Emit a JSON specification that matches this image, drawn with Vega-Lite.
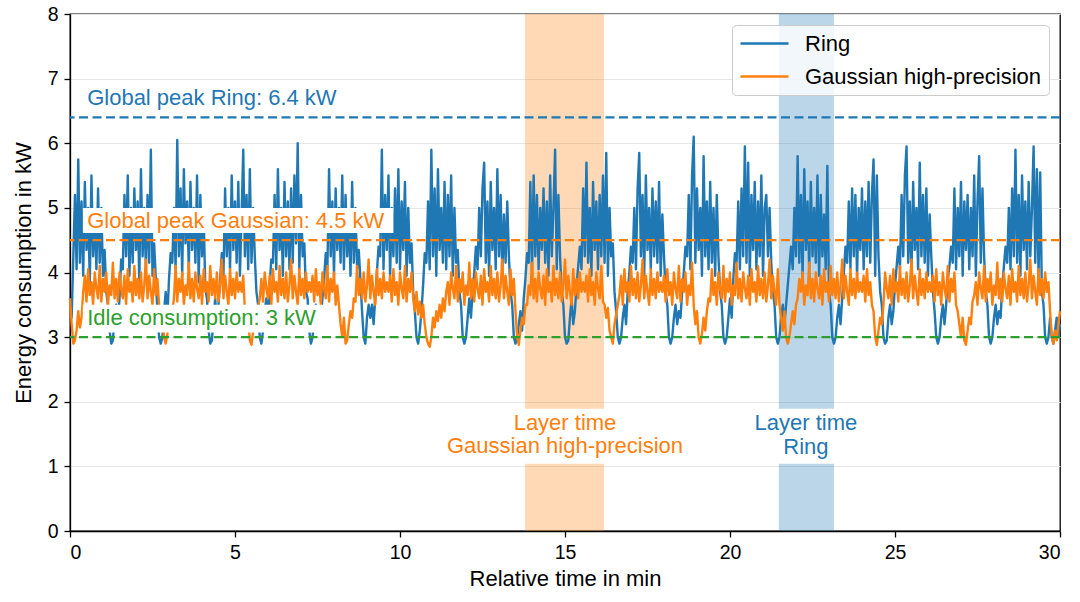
{
  "$schema": "https://vega.github.io/schema/vega-lite/v6.json",
  "width": 990,
  "height": 517,
  "autosize": {"type": "none"},
  "padding": {"left": 70, "top": 14, "right": 20, "bottom": 71},
  "config": {
    "font": "Liberation Sans",
    "view": {"stroke": "#000000", "strokeWidth": 1.3},
    "axis": {
      "labelFontSize": 19.5, "titleFontSize": 22, "labelColor": "#000000", "titleColor": "#000000",
      "titleFontWeight": "normal", "domainColor": "#000000", "domainWidth": 1.3,
      "tickColor": "#000000", "tickWidth": 1.3, "tickSize": 6, "labelPadding": 6,
      "gridColor": "#e6e6e6", "gridWidth": 1.2
    },
    "legend": {
      "orient": "top-right", "offset": 11, "title": null,
      "labelFontSize": 22, "labelColor": "#000000", "labelLimit": 400,
      "symbolType": "M-2.4,0L2.4,0", "symbolSize": 400, "symbolStrokeWidth": 2.5,
      "symbolOffset": 14, "labelOffset": 29, "rowPadding": 10, "padding": 7,
      "fillColor": "rgba(255,255,255,0.8)", "strokeColor": "#cccccc", "cornerRadius": 4
    }
  },
  "datasets": {
    "ring": [
      {"t":0,"v":3.6},{"t":0.05,"v":3.3},
      {"t":0.1,"v":4.25},{"t":0.15,"v":5.2},{"t":0.2,"v":4.05},{"t":0.25,"v":5.75},{"t":0.3,"v":4.15},{"t":0.35,"v":5.1},{"t":0.4,"v":3.95},{"t":0.45,"v":5.4},{"t":0.5,"v":4.35},{"t":0.55,"v":5.0},{"t":0.6,"v":3.85},{"t":0.65,"v":5.5},{"t":0.7,"v":4.25},{"t":0.75,"v":4.9},{"t":0.8,"v":4.05},{"t":0.85,"v":5.3},{"t":0.9,"v":4.15},{"t":0.95,"v":5.0},{"t":1.0,"v":3.95},{"t":1.05,"v":4.35},{"t":1.1,"v":3.7},
      {"t":1.15,"v":3.5},{"t":1.2,"v":3.1},{"t":1.25,"v":2.9},{"t":1.3,"v":2.95},{"t":1.35,"v":3.3},{"t":1.4,"v":3.5},{"t":1.45,"v":3.2},{"t":1.5,"v":3.6},{"t":1.55,"v":4.2},
      {"t":1.6,"v":4.05},{"t":1.65,"v":5.2},{"t":1.7,"v":4.25},{"t":1.75,"v":5.5},{"t":1.8,"v":3.95},{"t":1.85,"v":5.0},{"t":1.9,"v":4.15},{"t":1.95,"v":5.3},{"t":2.0,"v":4.35},{"t":2.05,"v":5.1},{"t":2.1,"v":3.85},{"t":2.15,"v":5.6},{"t":2.2,"v":4.25},{"t":2.25,"v":5.0},{"t":2.3,"v":4.05},{"t":2.35,"v":5.2},{"t":2.4,"v":4.15},{"t":2.45,"v":5.9},{"t":2.5,"v":3.95},{"t":2.55,"v":4.45},{"t":2.6,"v":3.9},
      {"t":2.65,"v":3.4},{"t":2.7,"v":3.0},{"t":2.75,"v":2.9},{"t":2.8,"v":3.0},{"t":2.85,"v":3.4},{"t":2.9,"v":3.7},{"t":2.95,"v":3.3},{"t":3.0,"v":3.9},{"t":3.05,"v":4.3},
      {"t":3.1,"v":4.15},{"t":3.15,"v":5.0},{"t":3.2,"v":4.05},{"t":3.25,"v":6.05},{"t":3.3,"v":4.25},{"t":3.35,"v":5.3},{"t":3.4,"v":3.95},{"t":3.45,"v":5.6},{"t":3.5,"v":4.45},{"t":3.55,"v":5.1},{"t":3.6,"v":4.05},{"t":3.65,"v":5.4},{"t":3.7,"v":4.35},{"t":3.75,"v":5.0},{"t":3.8,"v":4.15},{"t":3.85,"v":5.5},{"t":3.9,"v":3.85},{"t":3.95,"v":5.2},{"t":4.0,"v":4.25},{"t":4.05,"v":4.9},{"t":4.1,"v":3.75},
      {"t":4.15,"v":3.6},{"t":4.2,"v":3.1},{"t":4.25,"v":2.9},{"t":4.3,"v":2.95},{"t":4.35,"v":3.3},{"t":4.4,"v":3.6},{"t":4.45,"v":3.2},{"t":4.5,"v":3.5},{"t":4.55,"v":3.9},{"t":4.6,"v":4.3},
      {"t":4.65,"v":3.95},{"t":4.7,"v":5.3},{"t":4.75,"v":4.25},{"t":4.8,"v":5.0},{"t":4.85,"v":4.05},{"t":4.9,"v":5.5},{"t":4.95,"v":4.35},{"t":5.0,"v":5.1},{"t":5.05,"v":4.15},{"t":5.1,"v":5.4},{"t":5.15,"v":3.95},{"t":5.2,"v":4.9},{"t":5.25,"v":5.9},{"t":5.3,"v":4.25},{"t":5.35,"v":5.2},{"t":5.4,"v":4.05},{"t":5.45,"v":5.6},{"t":5.5,"v":4.15},{"t":5.55,"v":5.0},{"t":5.6,"v":4.25},{"t":5.65,"v":3.7},
      {"t":5.7,"v":3.5},{"t":5.75,"v":3.0},{"t":5.8,"v":2.9},{"t":5.85,"v":3.1},{"t":5.9,"v":3.4},{"t":5.95,"v":3.6},{"t":6.0,"v":3.2},{"t":6.05,"v":3.8},{"t":6.1,"v":4.2},
      {"t":6.15,"v":4.15},{"t":6.2,"v":5.2},{"t":6.25,"v":4.05},{"t":6.3,"v":5.6},{"t":6.35,"v":4.35},{"t":6.4,"v":5.0},{"t":6.45,"v":3.95},{"t":6.5,"v":5.4},{"t":6.55,"v":4.25},{"t":6.6,"v":5.1},{"t":6.65,"v":4.05},{"t":6.7,"v":5.3},{"t":6.75,"v":4.15},{"t":6.8,"v":5.5},{"t":6.85,"v":4.45},{"t":6.9,"v":6.0},{"t":6.95,"v":4.05},{"t":7.0,"v":5.2},{"t":7.05,"v":4.25},{"t":7.1,"v":4.45},{"t":7.15,"v":3.7},
      {"t":7.2,"v":3.6},{"t":7.25,"v":3.1},{"t":7.3,"v":2.9},{"t":7.35,"v":3.0},{"t":7.4,"v":3.3},{"t":7.45,"v":3.5},{"t":7.5,"v":3.2},{"t":7.55,"v":3.4},{"t":7.6,"v":3.3},{"t":7.65,"v":3.6},{"t":7.7,"v":3.9},{"t":7.75,"v":4.3},
      {"t":7.8,"v":4.05},{"t":7.85,"v":5.6},{"t":7.9,"v":4.25},{"t":7.95,"v":5.1},{"t":8.0,"v":3.95},{"t":8.05,"v":5.3},{"t":8.1,"v":4.35},{"t":8.15,"v":5.0},{"t":8.2,"v":4.15},{"t":8.25,"v":5.5},{"t":8.3,"v":4.05},{"t":8.35,"v":5.2},{"t":8.4,"v":4.25},{"t":8.45,"v":4.9},{"t":8.5,"v":3.95},{"t":8.55,"v":5.4},{"t":8.6,"v":4.15},{"t":8.65,"v":5.0},{"t":8.7,"v":4.05},{"t":8.75,"v":4.35},{"t":8.8,"v":3.9},
      {"t":8.85,"v":3.4},{"t":8.9,"v":3.0},{"t":8.95,"v":2.9},{"t":9.0,"v":3.3},{"t":9.05,"v":3.5},{"t":9.1,"v":3.3},{"t":9.15,"v":3.5},{"t":9.2,"v":3.2},{"t":9.25,"v":3.6},{"t":9.3,"v":4.0},{"t":9.35,"v":4.4},
      {"t":9.4,"v":4.25},{"t":9.45,"v":5.9},{"t":9.5,"v":4.05},{"t":9.55,"v":5.2},{"t":9.6,"v":4.35},{"t":9.65,"v":5.5},{"t":9.7,"v":3.95},{"t":9.75,"v":5.0},{"t":9.8,"v":4.25},{"t":9.85,"v":5.3},{"t":9.9,"v":4.15},{"t":9.95,"v":5.6},{"t":10.0,"v":4.05},{"t":10.05,"v":5.1},{"t":10.1,"v":4.35},{"t":10.15,"v":5.4},{"t":10.2,"v":3.95},{"t":10.25,"v":5.0},{"t":10.3,"v":4.15},{"t":10.35,"v":4.45},{"t":10.4,"v":3.7},
      {"t":10.45,"v":3.4},{"t":10.5,"v":3.0},{"t":10.55,"v":2.9},{"t":10.6,"v":3.1},{"t":10.65,"v":3.4},{"t":10.7,"v":3.8},{"t":10.75,"v":4.3},
      {"t":10.8,"v":4.15},{"t":10.85,"v":5.1},{"t":10.9,"v":4.05},{"t":10.95,"v":5.9},{"t":11.0,"v":4.25},{"t":11.05,"v":5.3},{"t":11.1,"v":3.95},{"t":11.15,"v":5.6},{"t":11.2,"v":4.35},{"t":11.25,"v":5.0},{"t":11.3,"v":4.15},{"t":11.35,"v":5.4},{"t":11.4,"v":4.05},{"t":11.45,"v":5.2},{"t":11.5,"v":4.25},{"t":11.55,"v":5.5},{"t":11.6,"v":3.95},{"t":11.65,"v":5.0},{"t":11.7,"v":4.15},{"t":11.75,"v":4.35},{"t":11.8,"v":3.7},
      {"t":11.85,"v":3.5},{"t":11.9,"v":3.0},{"t":11.95,"v":2.9},{"t":12.0,"v":3.0},{"t":12.05,"v":3.3},{"t":12.1,"v":3.6},{"t":12.15,"v":3.3},{"t":12.2,"v":3.7},{"t":12.25,"v":4.0},{"t":12.3,"v":4.4},
      {"t":12.35,"v":4.05},{"t":12.4,"v":5.0},{"t":12.45,"v":4.25},{"t":12.5,"v":5.3},{"t":12.55,"v":5.7},{"t":12.6,"v":4.15},{"t":12.65,"v":5.1},{"t":12.7,"v":3.95},{"t":12.75,"v":5.4},{"t":12.8,"v":4.35},{"t":12.85,"v":5.0},{"t":12.9,"v":4.05},{"t":12.95,"v":5.6},{"t":13.0,"v":4.25},{"t":13.05,"v":5.2},{"t":13.1,"v":3.95},{"t":13.15,"v":4.9},{"t":13.2,"v":4.15},{"t":13.25,"v":5.1},{"t":13.3,"v":4.25},{"t":13.35,"v":3.7},
      {"t":13.4,"v":3.5},{"t":13.45,"v":3.0},{"t":13.5,"v":2.9},{"t":13.55,"v":3.0},{"t":13.6,"v":3.2},{"t":13.65,"v":3.4},{"t":13.7,"v":3.1},{"t":13.75,"v":3.6},{"t":13.8,"v":3.9},{"t":13.85,"v":4.3},
      {"t":13.9,"v":4.15},{"t":13.95,"v":5.4},{"t":14.0,"v":3.95},{"t":14.05,"v":5.5},{"t":14.1,"v":4.25},{"t":14.15,"v":5.2},{"t":14.2,"v":4.05},{"t":14.25,"v":5.0},{"t":14.3,"v":4.35},{"t":14.35,"v":5.3},{"t":14.4,"v":4.15},{"t":14.45,"v":5.1},{"t":14.5,"v":3.95},{"t":14.55,"v":5.5},{"t":14.6,"v":4.25},{"t":14.65,"v":5.0},{"t":14.7,"v":5.9},{"t":14.75,"v":4.05},{"t":14.8,"v":5.2},{"t":14.85,"v":4.25},{"t":14.9,"v":3.7},
      {"t":14.95,"v":3.5},{"t":15.0,"v":3.0},{"t":15.05,"v":2.9},{"t":15.1,"v":2.95},{"t":15.15,"v":3.3},{"t":15.2,"v":3.6},{"t":15.25,"v":3.2},{"t":15.3,"v":3.4},{"t":15.35,"v":3.8},{"t":15.4,"v":4.1},{"t":15.45,"v":4.4},
      {"t":15.5,"v":4.05},{"t":15.55,"v":5.3},{"t":15.6,"v":4.25},{"t":15.65,"v":5.7},{"t":15.7,"v":4.15},{"t":15.75,"v":5.0},{"t":15.8,"v":3.95},{"t":15.85,"v":5.4},{"t":15.9,"v":4.35},{"t":15.95,"v":5.1},{"t":16.0,"v":4.05},{"t":16.05,"v":5.2},{"t":16.1,"v":4.25},{"t":16.15,"v":5.5},{"t":16.2,"v":4.15},{"t":16.25,"v":5.85},{"t":16.3,"v":3.95},{"t":16.35,"v":5.0},{"t":16.4,"v":4.25},{"t":16.45,"v":4.45},{"t":16.5,"v":3.7},
      {"t":16.55,"v":3.4},{"t":16.6,"v":3.0},{"t":16.65,"v":2.9},{"t":16.7,"v":3.0},{"t":16.75,"v":3.3},{"t":16.8,"v":3.5},{"t":16.85,"v":3.2},{"t":16.9,"v":3.7},{"t":16.95,"v":4.0},{"t":17.0,"v":4.4},
      {"t":17.05,"v":4.15},{"t":17.1,"v":5.0},{"t":17.15,"v":4.05},{"t":17.2,"v":5.3},{"t":17.25,"v":5.85},{"t":17.3,"v":4.25},{"t":17.35,"v":5.2},{"t":17.4,"v":3.95},{"t":17.45,"v":5.5},{"t":17.5,"v":4.35},{"t":17.55,"v":5.0},{"t":17.6,"v":4.05},{"t":17.65,"v":5.3},{"t":17.7,"v":4.25},{"t":17.75,"v":5.1},{"t":17.8,"v":4.15},{"t":17.85,"v":5.4},{"t":17.9,"v":3.95},{"t":17.95,"v":4.9},{"t":18.0,"v":4.25},{"t":18.05,"v":3.7},
      {"t":18.1,"v":3.5},{"t":18.15,"v":3.0},{"t":18.2,"v":2.9},{"t":18.25,"v":3.0},{"t":18.3,"v":3.3},{"t":18.35,"v":3.5},{"t":18.4,"v":3.2},{"t":18.45,"v":3.4},{"t":18.5,"v":3.3},{"t":18.55,"v":3.7},{"t":18.6,"v":4.0},{"t":18.65,"v":4.4},
      {"t":18.7,"v":4.25},{"t":18.75,"v":5.2},{"t":18.8,"v":4.05},{"t":18.85,"v":5.5},{"t":18.9,"v":6.1},{"t":18.95,"v":4.15},{"t":19.0,"v":5.3},{"t":19.05,"v":4.35},{"t":19.1,"v":5.0},{"t":19.15,"v":3.95},{"t":19.2,"v":5.8},{"t":19.25,"v":4.25},{"t":19.3,"v":5.1},{"t":19.35,"v":4.05},{"t":19.4,"v":5.4},{"t":19.45,"v":4.15},{"t":19.5,"v":5.0},{"t":19.55,"v":3.95},{"t":19.6,"v":5.2},{"t":19.65,"v":4.25},{"t":19.7,"v":3.7},
      {"t":19.75,"v":3.5},{"t":19.8,"v":3.0},{"t":19.85,"v":2.9},{"t":19.9,"v":3.0},{"t":19.95,"v":3.3},{"t":20.0,"v":3.6},{"t":20.05,"v":3.3},{"t":20.1,"v":3.9},{"t":20.15,"v":4.3},
      {"t":20.2,"v":4.15},{"t":20.25,"v":5.1},{"t":20.3,"v":4.05},{"t":20.35,"v":5.3},{"t":20.4,"v":4.25},{"t":20.45,"v":5.95},{"t":20.5,"v":4.15},{"t":20.55,"v":5.7},{"t":20.6,"v":3.95},{"t":20.65,"v":5.2},{"t":20.7,"v":4.35},{"t":20.75,"v":5.4},{"t":20.8,"v":4.05},{"t":20.85,"v":5.1},{"t":20.9,"v":4.25},{"t":20.95,"v":5.5},{"t":21.0,"v":3.95},{"t":21.05,"v":5.0},{"t":21.1,"v":5.2},{"t":21.15,"v":4.25},{"t":21.2,"v":5.0},{"t":21.25,"v":4.15},{"t":21.3,"v":3.7},
      {"t":21.35,"v":3.5},{"t":21.4,"v":3.0},{"t":21.45,"v":2.9},{"t":21.5,"v":3.0},{"t":21.55,"v":3.3},{"t":21.6,"v":3.5},{"t":21.65,"v":3.2},{"t":21.7,"v":3.5},{"t":21.75,"v":3.8},{"t":21.8,"v":4.1},{"t":21.85,"v":4.4},
      {"t":21.9,"v":4.05},{"t":21.95,"v":5.0},{"t":22.0,"v":4.25},{"t":22.05,"v":5.8},{"t":22.1,"v":4.15},{"t":22.15,"v":5.2},{"t":22.2,"v":3.95},{"t":22.25,"v":5.6},{"t":22.3,"v":4.35},{"t":22.35,"v":5.1},{"t":22.4,"v":4.05},{"t":22.45,"v":5.4},{"t":22.5,"v":4.25},{"t":22.55,"v":5.0},{"t":22.6,"v":4.15},{"t":22.65,"v":5.5},{"t":22.7,"v":3.95},{"t":22.75,"v":5.2},{"t":22.8,"v":4.25},{"t":22.85,"v":4.9},{"t":22.9,"v":4.05},{"t":22.95,"v":5.65},{"t":23.0,"v":3.7},
      {"t":23.05,"v":3.5},{"t":23.1,"v":3.0},{"t":23.15,"v":2.9},{"t":23.2,"v":3.0},{"t":23.25,"v":3.3},{"t":23.3,"v":3.5},{"t":23.35,"v":3.2},{"t":23.4,"v":3.6},{"t":23.45,"v":4.0},{"t":23.5,"v":4.4},
      {"t":23.55,"v":4.15},{"t":23.6,"v":5.1},{"t":23.65,"v":4.05},{"t":23.7,"v":5.3},{"t":23.75,"v":4.25},{"t":23.8,"v":5.2},{"t":23.85,"v":3.95},{"t":23.9,"v":5.0},{"t":23.95,"v":4.35},{"t":24.0,"v":5.3},{"t":24.05,"v":4.05},{"t":24.1,"v":5.1},{"t":24.15,"v":4.25},{"t":24.2,"v":5.4},{"t":24.25,"v":4.15},{"t":24.3,"v":5.2},{"t":24.35,"v":5.75},{"t":24.4,"v":3.95},{"t":24.45,"v":5.5},{"t":24.5,"v":4.25},{"t":24.55,"v":3.7},
      {"t":24.6,"v":3.5},{"t":24.65,"v":3.0},{"t":24.7,"v":2.9},{"t":24.75,"v":2.95},{"t":24.8,"v":3.3},{"t":24.85,"v":3.5},{"t":24.9,"v":3.2},{"t":24.95,"v":3.4},{"t":25.0,"v":3.8},{"t":25.05,"v":4.1},{"t":25.1,"v":4.4},
      {"t":25.15,"v":4.05},{"t":25.2,"v":5.2},{"t":25.25,"v":4.25},{"t":25.3,"v":5.5},{"t":25.35,"v":5.95},{"t":25.4,"v":4.15},{"t":25.45,"v":5.1},{"t":25.5,"v":3.95},{"t":25.55,"v":5.4},{"t":25.6,"v":4.35},{"t":25.65,"v":5.0},{"t":25.7,"v":4.05},{"t":25.75,"v":5.7},{"t":25.8,"v":4.25},{"t":25.85,"v":5.2},{"t":25.9,"v":4.15},{"t":25.95,"v":5.3},{"t":26.0,"v":3.95},{"t":26.05,"v":4.9},{"t":26.1,"v":4.25},{"t":26.15,"v":3.7},
      {"t":26.2,"v":3.4},{"t":26.25,"v":3.0},{"t":26.3,"v":2.9},{"t":26.35,"v":3.0},{"t":26.4,"v":3.3},{"t":26.45,"v":3.5},{"t":26.5,"v":3.2},{"t":26.55,"v":3.5},{"t":26.6,"v":3.9},{"t":26.65,"v":4.1},{"t":26.7,"v":4.4},
      {"t":26.75,"v":4.15},{"t":26.8,"v":5.3},{"t":26.85,"v":4.05},{"t":26.9,"v":5.0},{"t":26.95,"v":4.25},{"t":27.0,"v":5.4},{"t":27.05,"v":3.95},{"t":27.1,"v":5.1},{"t":27.15,"v":4.35},{"t":27.2,"v":5.2},{"t":27.25,"v":4.05},{"t":27.3,"v":5.0},{"t":27.35,"v":4.25},{"t":27.4,"v":5.5},{"t":27.45,"v":3.95},{"t":27.5,"v":5.1},{"t":27.55,"v":5.8},{"t":27.6,"v":4.15},{"t":27.65,"v":5.3},{"t":27.7,"v":4.25},{"t":27.75,"v":3.7},
      {"t":27.8,"v":3.5},{"t":27.85,"v":3.0},{"t":27.9,"v":2.9},{"t":27.95,"v":3.0},{"t":28.0,"v":3.3},{"t":28.05,"v":3.5},{"t":28.1,"v":3.2},{"t":28.15,"v":3.4},{"t":28.2,"v":3.3},{"t":28.25,"v":3.8},{"t":28.3,"v":4.1},{"t":28.35,"v":4.4},
      {"t":28.4,"v":4.15},{"t":28.45,"v":5.0},{"t":28.5,"v":4.05},{"t":28.55,"v":5.3},{"t":28.6,"v":4.25},{"t":28.65,"v":5.9},{"t":28.7,"v":4.15},{"t":28.75,"v":5.2},{"t":28.8,"v":3.95},{"t":28.85,"v":5.5},{"t":28.9,"v":4.35},{"t":28.95,"v":5.1},{"t":29.0,"v":4.05},{"t":29.05,"v":5.4},{"t":29.1,"v":4.25},{"t":29.15,"v":5.0},{"t":29.2,"v":5.95},{"t":29.25,"v":4.15},{"t":29.3,"v":5.6},{"t":29.35,"v":3.95},{"t":29.4,"v":5.55},{"t":29.45,"v":3.7},
      {"t":29.5,"v":3.5},{"t":29.55,"v":3.0},{"t":29.6,"v":2.9},{"t":29.65,"v":3.0},{"t":29.7,"v":3.3},{"t":29.75,"v":3.0},{"t":29.8,"v":2.9},{"t":29.85,"v":3.1},{"t":29.9,"v":3.3},{"t":29.95,"v":3.0},{"t":30.0,"v":3.2}
    ],
    "gauss": [
      {"t":0,"v":3.6},{"t":0.05,"v":3.2},{"t":0.1,"v":2.9},{"t":0.15,"v":2.95},{"t":0.2,"v":3.1},{"t":0.25,"v":3.4},{"t":0.3,"v":3.15},{"t":0.35,"v":3.3},
      {"t":0.4,"v":3.7},{"t":0.45,"v":3.95},{"t":0.5,"v":3.55},{"t":0.55,"v":4.05},{"t":0.6,"v":3.65},{"t":0.65,"v":3.85},{"t":0.7,"v":3.5},{"t":0.75,"v":4.0},{"t":0.8,"v":3.75},{"t":0.85,"v":3.6},{"t":0.9,"v":4.1},{"t":0.95,"v":3.55},{"t":1.0,"v":3.9},{"t":1.05,"v":3.7},{"t":1.1,"v":4.0},{"t":1.15,"v":3.5},{"t":1.2,"v":3.8},{"t":1.25,"v":3.65},{"t":1.3,"v":4.15},{"t":1.35,"v":3.6},{"t":1.4,"v":3.9},{"t":1.45,"v":3.55},{"t":1.5,"v":4.0},{"t":1.55,"v":3.75},{"t":1.6,"v":3.6},{"t":1.65,"v":3.95},{"t":1.7,"v":3.5},{"t":1.75,"v":4.05},{"t":1.8,"v":3.7},{"t":1.85,"v":3.85},{"t":1.9,"v":3.55},{"t":1.95,"v":4.1},{"t":2.0,"v":3.65},{"t":2.05,"v":3.9},{"t":2.1,"v":3.6},{"t":2.15,"v":4.0},{"t":2.2,"v":3.55},{"t":2.25,"v":3.8},{"t":2.3,"v":4.2},{"t":2.35,"v":3.6},{"t":2.4,"v":3.95},{"t":2.45,"v":3.7},{"t":2.5,"v":3.5},{"t":2.55,"v":4.05},{"t":2.6,"v":3.65},{"t":2.65,"v":3.9},
      {"t":2.7,"v":3.5},{"t":2.75,"v":3.2},{"t":2.8,"v":3.4},{"t":2.85,"v":3.0},{"t":2.9,"v":2.9},{"t":2.95,"v":3.05},{"t":3.0,"v":3.3},{"t":3.05,"v":3.1},{"t":3.1,"v":3.4},{"t":3.15,"v":3.6},
      {"t":3.2,"v":4.1},{"t":3.25,"v":3.55},{"t":3.3,"v":3.9},{"t":3.35,"v":3.7},{"t":3.4,"v":4.0},{"t":3.45,"v":3.5},{"t":3.5,"v":3.8},{"t":3.55,"v":3.65},{"t":3.6,"v":4.15},{"t":3.65,"v":3.6},{"t":3.7,"v":3.9},{"t":3.75,"v":3.55},{"t":3.8,"v":4.0},{"t":3.85,"v":3.75},{"t":3.9,"v":3.6},{"t":3.95,"v":3.95},{"t":4.0,"v":3.5},{"t":4.05,"v":4.05},{"t":4.1,"v":3.7},{"t":4.15,"v":3.85},{"t":4.2,"v":3.55},{"t":4.25,"v":4.1},{"t":4.3,"v":3.65},{"t":4.35,"v":3.9},{"t":4.4,"v":3.6},{"t":4.45,"v":4.0},{"t":4.5,"v":3.55},{"t":4.55,"v":3.8},{"t":4.6,"v":4.2},{"t":4.65,"v":3.6},{"t":4.7,"v":3.95},{"t":4.75,"v":3.7},{"t":4.8,"v":3.5},{"t":4.85,"v":4.05},{"t":4.9,"v":3.65},{"t":4.95,"v":3.9},{"t":5.0,"v":3.6},{"t":5.05,"v":4.0},{"t":5.1,"v":3.7},{"t":5.15,"v":3.85},{"t":5.2,"v":3.7},{"t":5.25,"v":3.95},
      {"t":5.3,"v":3.4},{"t":5.35,"v":3.1},{"t":5.4,"v":3.3},{"t":5.45,"v":2.95},{"t":5.5,"v":2.88},{"t":5.55,"v":3.1},{"t":5.6,"v":3.35},{"t":5.65,"v":3.2},{"t":5.7,"v":3.45},{"t":5.75,"v":3.6},
      {"t":5.8,"v":3.9},{"t":5.85,"v":3.55},{"t":5.9,"v":4.0},{"t":5.95,"v":3.75},{"t":6.0,"v":3.6},{"t":6.05,"v":3.95},{"t":6.1,"v":3.5},{"t":6.15,"v":4.05},{"t":6.2,"v":3.7},{"t":6.25,"v":3.85},{"t":6.3,"v":3.55},{"t":6.35,"v":4.1},{"t":6.4,"v":3.65},{"t":6.45,"v":3.9},{"t":6.5,"v":3.6},{"t":6.55,"v":4.0},{"t":6.6,"v":3.55},{"t":6.65,"v":3.8},{"t":6.7,"v":4.2},{"t":6.75,"v":3.6},{"t":6.8,"v":3.95},{"t":6.85,"v":3.7},{"t":6.9,"v":3.5},{"t":6.95,"v":4.05},{"t":7.0,"v":3.65},{"t":7.05,"v":3.9},{"t":7.1,"v":3.6},{"t":7.15,"v":4.0},{"t":7.2,"v":3.7},{"t":7.25,"v":3.85},{"t":7.3,"v":3.7},{"t":7.35,"v":3.95},{"t":7.4,"v":3.55},{"t":7.45,"v":4.05},{"t":7.5,"v":3.65},{"t":7.55,"v":3.85},{"t":7.6,"v":3.5},{"t":7.65,"v":4.0},{"t":7.7,"v":3.75},{"t":7.75,"v":3.6},{"t":7.8,"v":4.1},{"t":7.85,"v":3.55},{"t":7.9,"v":3.9},{"t":7.95,"v":3.7},{"t":8.0,"v":4.0},{"t":8.05,"v":3.5},{"t":8.1,"v":3.8},
      {"t":8.15,"v":3.5},{"t":8.2,"v":3.2},{"t":8.25,"v":3.0},{"t":8.3,"v":3.3},{"t":8.35,"v":2.9},{"t":8.4,"v":2.95},{"t":8.45,"v":3.2},{"t":8.5,"v":3.4},{"t":8.55,"v":3.3},{"t":8.6,"v":3.6},
      {"t":8.65,"v":3.55},{"t":8.7,"v":4.1},{"t":8.75,"v":3.65},{"t":8.8,"v":3.9},{"t":8.85,"v":3.6},{"t":8.9,"v":4.0},{"t":8.95,"v":3.55},{"t":9.0,"v":3.8},{"t":9.05,"v":4.2},{"t":9.1,"v":3.6},{"t":9.15,"v":3.95},{"t":9.2,"v":3.7},{"t":9.25,"v":3.5},{"t":9.3,"v":4.05},{"t":9.35,"v":3.65},{"t":9.4,"v":3.9},{"t":9.45,"v":3.6},{"t":9.5,"v":4.0},{"t":9.55,"v":3.7},{"t":9.6,"v":3.85},{"t":9.65,"v":3.7},{"t":9.7,"v":3.95},{"t":9.75,"v":3.55},{"t":9.8,"v":4.05},{"t":9.85,"v":3.65},{"t":9.9,"v":3.85},{"t":9.95,"v":3.5},{"t":10.0,"v":4.0},{"t":10.05,"v":3.75},{"t":10.1,"v":3.6},{"t":10.15,"v":4.1},{"t":10.2,"v":3.55},{"t":10.25,"v":3.9},{"t":10.3,"v":3.7},{"t":10.35,"v":4.0},
      {"t":10.4,"v":3.6},{"t":10.45,"v":3.4},{"t":10.5,"v":3.7},{"t":10.55,"v":3.35},{"t":10.6,"v":3.55},{"t":10.65,"v":3.3},{"t":10.7,"v":3.5},{"t":10.75,"v":3.2},{"t":10.8,"v":3.0},{"t":10.85,"v":2.9},{"t":10.9,"v":2.85},{"t":10.95,"v":3.0},{"t":11.0,"v":3.3},{"t":11.05,"v":3.15},{"t":11.1,"v":3.4},{"t":11.15,"v":3.25},{"t":11.2,"v":3.5},{"t":11.25,"v":3.3},{"t":11.3,"v":3.6},{"t":11.35,"v":3.4},{"t":11.4,"v":3.7},
      {"t":11.45,"v":3.85},{"t":11.5,"v":3.5},{"t":11.55,"v":4.0},{"t":11.6,"v":3.75},{"t":11.65,"v":3.6},{"t":11.7,"v":4.1},{"t":11.75,"v":3.55},{"t":11.8,"v":3.9},{"t":11.85,"v":3.7},{"t":11.9,"v":4.0},{"t":11.95,"v":3.5},{"t":12.0,"v":3.8},{"t":12.05,"v":3.65},{"t":12.1,"v":4.15},{"t":12.15,"v":3.6},{"t":12.2,"v":3.9},{"t":12.25,"v":3.55},{"t":12.3,"v":4.0},{"t":12.35,"v":3.75},{"t":12.4,"v":3.6},{"t":12.45,"v":3.95},{"t":12.5,"v":3.5},{"t":12.55,"v":4.05},{"t":12.6,"v":3.7},{"t":12.65,"v":3.85},{"t":12.7,"v":3.55},{"t":12.75,"v":4.1},{"t":12.8,"v":3.65},{"t":12.85,"v":3.9},{"t":12.9,"v":3.6},{"t":12.95,"v":4.0},{"t":13.0,"v":3.55},{"t":13.05,"v":3.8},{"t":13.1,"v":4.2},{"t":13.15,"v":3.6},{"t":13.2,"v":3.95},{"t":13.25,"v":3.7},{"t":13.3,"v":3.5},{"t":13.35,"v":4.05},{"t":13.4,"v":3.65},{"t":13.45,"v":3.9},
      {"t":13.5,"v":3.4},{"t":13.55,"v":3.0},{"t":13.6,"v":2.88},{"t":13.65,"v":3.1},{"t":13.7,"v":3.3},{"t":13.75,"v":3.2},{"t":13.8,"v":3.5},
      {"t":13.85,"v":3.5},{"t":13.9,"v":3.8},{"t":13.95,"v":3.65},{"t":14.0,"v":4.15},{"t":14.05,"v":3.6},{"t":14.1,"v":3.9},{"t":14.15,"v":3.55},{"t":14.2,"v":4.0},{"t":14.25,"v":3.75},{"t":14.3,"v":3.6},{"t":14.35,"v":3.95},{"t":14.4,"v":3.5},{"t":14.45,"v":4.05},{"t":14.5,"v":3.7},{"t":14.55,"v":3.85},{"t":14.6,"v":3.55},{"t":14.65,"v":4.1},{"t":14.7,"v":3.65},{"t":14.75,"v":3.9},{"t":14.8,"v":3.6},{"t":14.85,"v":4.0},{"t":14.9,"v":3.55},{"t":14.95,"v":3.8},{"t":15.0,"v":4.2},{"t":15.05,"v":3.6},{"t":15.1,"v":3.95},{"t":15.15,"v":3.7},{"t":15.2,"v":3.5},{"t":15.25,"v":4.05},{"t":15.3,"v":3.65},{"t":15.35,"v":3.9},{"t":15.4,"v":3.6},{"t":15.45,"v":4.0},{"t":15.5,"v":3.7},{"t":15.55,"v":3.85},{"t":15.6,"v":3.7},{"t":15.65,"v":3.95},{"t":15.7,"v":3.55},{"t":15.75,"v":4.05},{"t":15.8,"v":3.65},{"t":15.85,"v":3.85},{"t":15.9,"v":3.5},{"t":15.95,"v":4.0},{"t":16.0,"v":3.75},{"t":16.05,"v":3.6},{"t":16.1,"v":4.1},{"t":16.15,"v":3.55},
      {"t":16.2,"v":3.5},{"t":16.25,"v":3.3},{"t":16.3,"v":3.45},{"t":16.35,"v":3.1},{"t":16.4,"v":3.0},{"t":16.45,"v":2.9},{"t":16.5,"v":3.2},{"t":16.55,"v":3.35},{"t":16.6,"v":3.5},{"t":16.65,"v":3.65},
      {"t":16.7,"v":3.95},{"t":16.75,"v":3.5},{"t":16.8,"v":4.05},{"t":16.85,"v":3.7},{"t":16.9,"v":3.85},{"t":16.95,"v":3.55},{"t":17.0,"v":4.1},{"t":17.05,"v":3.65},{"t":17.1,"v":3.9},{"t":17.15,"v":3.6},{"t":17.2,"v":4.0},{"t":17.25,"v":3.55},{"t":17.3,"v":3.8},{"t":17.35,"v":4.2},{"t":17.4,"v":3.6},{"t":17.45,"v":3.95},{"t":17.5,"v":3.7},{"t":17.55,"v":3.5},{"t":17.6,"v":4.05},{"t":17.65,"v":3.65},{"t":17.7,"v":3.9},{"t":17.75,"v":3.6},{"t":17.8,"v":4.0},{"t":17.85,"v":3.7},{"t":17.9,"v":3.85},{"t":17.95,"v":3.7},{"t":18.0,"v":3.95},{"t":18.05,"v":3.55},{"t":18.1,"v":4.05},{"t":18.15,"v":3.65},{"t":18.2,"v":3.85},{"t":18.25,"v":3.5},{"t":18.3,"v":4.0},{"t":18.35,"v":3.75},{"t":18.4,"v":3.6},{"t":18.45,"v":4.1},{"t":18.5,"v":3.55},{"t":18.55,"v":3.9},{"t":18.6,"v":3.7},{"t":18.65,"v":4.0},{"t":18.7,"v":3.5},{"t":18.75,"v":3.8},{"t":18.8,"v":3.65},{"t":18.85,"v":4.15},
      {"t":18.9,"v":3.5},{"t":18.95,"v":3.2},{"t":19.0,"v":3.4},{"t":19.05,"v":3.0},{"t":19.1,"v":2.9},{"t":19.15,"v":3.05},{"t":19.2,"v":3.3},{"t":19.25,"v":3.1},{"t":19.3,"v":3.4},{"t":19.35,"v":3.6},
      {"t":19.4,"v":3.55},{"t":19.45,"v":4.05},{"t":19.5,"v":3.65},{"t":19.55,"v":3.85},{"t":19.6,"v":3.5},{"t":19.65,"v":4.0},{"t":19.7,"v":3.75},{"t":19.75,"v":3.6},{"t":19.8,"v":4.1},{"t":19.85,"v":3.55},{"t":19.9,"v":3.9},{"t":19.95,"v":3.7},{"t":20.0,"v":4.0},{"t":20.05,"v":3.5},{"t":20.1,"v":3.8},{"t":20.15,"v":3.65},{"t":20.2,"v":4.15},{"t":20.25,"v":3.6},{"t":20.3,"v":3.9},{"t":20.35,"v":3.55},{"t":20.4,"v":4.0},{"t":20.45,"v":3.75},{"t":20.5,"v":3.6},{"t":20.55,"v":3.95},{"t":20.6,"v":3.5},{"t":20.65,"v":4.05},{"t":20.7,"v":3.7},{"t":20.75,"v":3.85},{"t":20.8,"v":3.55},{"t":20.85,"v":4.1},{"t":20.9,"v":3.65},{"t":20.95,"v":3.9},{"t":21.0,"v":3.6},{"t":21.05,"v":4.0},{"t":21.1,"v":3.55},{"t":21.15,"v":3.8},{"t":21.2,"v":4.2},{"t":21.25,"v":3.6},{"t":21.3,"v":3.95},{"t":21.35,"v":3.7},{"t":21.4,"v":3.5},{"t":21.45,"v":4.05},
      {"t":21.5,"v":3.5},{"t":21.55,"v":3.3},{"t":21.6,"v":3.1},{"t":21.65,"v":3.4},{"t":21.7,"v":3.0},{"t":21.75,"v":2.9},{"t":21.8,"v":3.0},{"t":21.85,"v":3.2},{"t":21.9,"v":3.4},{"t":21.95,"v":3.2},{"t":22.0,"v":3.5},{"t":22.05,"v":3.6},
      {"t":22.1,"v":3.9},{"t":22.15,"v":3.7},{"t":22.2,"v":4.0},{"t":22.25,"v":3.5},{"t":22.3,"v":3.8},{"t":22.35,"v":3.65},{"t":22.4,"v":4.15},{"t":22.45,"v":3.6},{"t":22.5,"v":3.9},{"t":22.55,"v":3.55},{"t":22.6,"v":4.0},{"t":22.65,"v":3.75},{"t":22.7,"v":3.6},{"t":22.75,"v":3.95},{"t":22.8,"v":3.5},{"t":22.85,"v":4.05},{"t":22.9,"v":3.7},{"t":22.95,"v":3.85},{"t":23.0,"v":3.55},{"t":23.05,"v":4.1},{"t":23.1,"v":3.65},{"t":23.15,"v":3.9},{"t":23.2,"v":3.6},{"t":23.25,"v":4.0},{"t":23.3,"v":3.55},{"t":23.35,"v":3.8},{"t":23.4,"v":4.2},{"t":23.45,"v":3.6},{"t":23.5,"v":3.95},{"t":23.55,"v":3.7},{"t":23.6,"v":3.5},{"t":23.65,"v":4.05},{"t":23.7,"v":3.65},{"t":23.75,"v":3.9},{"t":23.8,"v":3.6},{"t":23.85,"v":4.0},{"t":23.9,"v":3.7},{"t":23.95,"v":3.85},{"t":24.0,"v":3.7},{"t":24.05,"v":3.95},{"t":24.1,"v":3.55},{"t":24.15,"v":4.05},{"t":24.2,"v":3.65},{"t":24.25,"v":3.85},{"t":24.3,"v":3.5},
      {"t":24.35,"v":3.4},{"t":24.4,"v":3.0},{"t":24.45,"v":2.88},{"t":24.5,"v":3.1},{"t":24.55,"v":3.3},{"t":24.6,"v":3.2},{"t":24.65,"v":3.5},
      {"t":24.7,"v":4.0},{"t":24.75,"v":3.75},{"t":24.8,"v":3.6},{"t":24.85,"v":3.95},{"t":24.9,"v":3.5},{"t":24.95,"v":4.05},{"t":25.0,"v":3.7},{"t":25.05,"v":3.85},{"t":25.1,"v":3.55},{"t":25.15,"v":4.1},{"t":25.2,"v":3.65},{"t":25.25,"v":3.9},{"t":25.3,"v":3.6},{"t":25.35,"v":4.0},{"t":25.4,"v":3.55},{"t":25.45,"v":3.8},{"t":25.5,"v":4.2},{"t":25.55,"v":3.6},{"t":25.6,"v":3.95},{"t":25.65,"v":3.7},{"t":25.7,"v":3.5},{"t":25.75,"v":4.05},{"t":25.8,"v":3.65},{"t":25.85,"v":3.9},{"t":25.9,"v":3.6},{"t":25.95,"v":4.0},{"t":26.0,"v":3.7},{"t":26.05,"v":3.85},{"t":26.1,"v":3.7},{"t":26.15,"v":3.95},{"t":26.2,"v":3.55},{"t":26.25,"v":4.05},{"t":26.3,"v":3.65},{"t":26.35,"v":3.85},{"t":26.4,"v":3.5},{"t":26.45,"v":4.0},{"t":26.5,"v":3.75},{"t":26.55,"v":3.6},{"t":26.6,"v":4.1},{"t":26.65,"v":3.55},{"t":26.7,"v":3.9},{"t":26.75,"v":3.7},{"t":26.8,"v":4.0},{"t":26.85,"v":3.5},
      {"t":26.9,"v":3.4},{"t":26.95,"v":3.2},{"t":27.0,"v":3.0},{"t":27.05,"v":3.3},{"t":27.1,"v":2.95},{"t":27.15,"v":2.88},{"t":27.2,"v":3.1},{"t":27.25,"v":3.3},{"t":27.3,"v":3.2},{"t":27.35,"v":3.55},
      {"t":27.4,"v":3.65},{"t":27.45,"v":3.85},{"t":27.5,"v":3.5},{"t":27.55,"v":4.0},{"t":27.6,"v":3.75},{"t":27.65,"v":3.6},{"t":27.7,"v":4.1},{"t":27.75,"v":3.55},{"t":27.8,"v":3.9},{"t":27.85,"v":3.7},{"t":27.9,"v":4.0},{"t":27.95,"v":3.5},{"t":28.0,"v":3.8},{"t":28.05,"v":3.65},{"t":28.1,"v":4.15},{"t":28.15,"v":3.6},{"t":28.2,"v":3.9},{"t":28.25,"v":3.55},{"t":28.3,"v":4.0},{"t":28.35,"v":3.75},{"t":28.4,"v":3.6},{"t":28.45,"v":3.95},{"t":28.5,"v":3.5},{"t":28.55,"v":4.05},{"t":28.6,"v":3.7},{"t":28.65,"v":3.85},{"t":28.7,"v":3.55},{"t":28.75,"v":4.1},{"t":28.8,"v":3.65},{"t":28.85,"v":3.9},{"t":28.9,"v":3.6},{"t":28.95,"v":4.0},{"t":29.0,"v":3.55},{"t":29.05,"v":3.8},{"t":29.1,"v":4.2},{"t":29.15,"v":3.6},{"t":29.2,"v":3.95},{"t":29.25,"v":3.7},{"t":29.3,"v":3.5},{"t":29.35,"v":4.05},{"t":29.4,"v":3.65},{"t":29.45,"v":3.9},{"t":29.5,"v":3.6},{"t":29.55,"v":4.0},{"t":29.6,"v":3.7},{"t":29.65,"v":3.85},
      {"t":29.7,"v":3.4},{"t":29.75,"v":3.0},{"t":29.8,"v":2.9},{"t":29.85,"v":3.1},{"t":29.9,"v":2.95},{"t":29.95,"v":3.2},{"t":30.0,"v":3.4}
    ]
  },
  "layer": [
    {
      "data": {"values": [{"t": 13.79, "t2": 16.18}]},
      "mark": {"type": "rect", "color": "#ff7f0e", "opacity": 0.3},
      "encoding": {
        "x": {"field": "t", "type": "quantitative", "scale": {"domain": [0, 30], "nice": false}, "title": "Relative time in min", "axis": {"values": [0, 5, 10, 15, 20, 25, 30], "grid": false, "titlePadding": 7}},
        "x2": {"field": "t2"}
      }
    },
    {
      "data": {"values": [{"t": 21.48, "t2": 23.15}]},
      "mark": {"type": "rect", "color": "#1f77b4", "opacity": 0.3},
      "encoding": {
        "x": {"field": "t", "type": "quantitative", "title": "Relative time in min"},
        "x2": {"field": "t2"}
      }
    },
    {
      "data": {"name": "ring"},
      "mark": {"type": "line", "strokeWidth": 2.4, "strokeJoin": "round"},
      "encoding": {
        "x": {"field": "t", "type": "quantitative", "title": "Relative time in min"},
        "y": {"field": "v", "type": "quantitative", "scale": {"domain": [0, 8], "nice": false}, "title": "Energy consumption in kW", "axis": {"values": [0, 1, 2, 3, 4, 5, 6, 7, 8], "format": "d", "grid": true, "titlePadding": 12}},
        "color": {"datum": "Ring", "type": "nominal", "scale": {"domain": ["Ring", "Gaussian high-precision"], "range": ["#1f77b4", "#ff7f0e"]}}
      }
    },
    {
      "data": {"name": "gauss"},
      "mark": {"type": "line", "strokeWidth": 2.4, "strokeJoin": "round"},
      "encoding": {
        "x": {"field": "t", "type": "quantitative", "title": "Relative time in min"},
        "y": {"field": "v", "type": "quantitative", "title": "Energy consumption in kW"},
        "color": {"datum": "Gaussian high-precision", "type": "nominal"}
      }
    },
    {
      "data": {"values": [{"v": 6.4}]},
      "mark": {"type": "rule", "color": "#1f77b4", "strokeWidth": 2.2, "strokeDash": [9, 4.5]},
      "encoding": {"y": {"field": "v", "type": "quantitative", "title": "Energy consumption in kW"}}
    },
    {
      "data": {"values": [{"v": 4.5}]},
      "mark": {"type": "rule", "color": "#ff7f0e", "strokeWidth": 2.2, "strokeDash": [9, 4.5]},
      "encoding": {"y": {"field": "v", "type": "quantitative", "title": "Energy consumption in kW"}}
    },
    {
      "data": {"values": [{"v": 3}]},
      "mark": {"type": "rule", "color": "#2ca02c", "strokeWidth": 2.2, "strokeDash": [9, 4.5]},
      "encoding": {"y": {"field": "v", "type": "quantitative", "title": "Energy consumption in kW"}}
    },
    {
      "data": {"values": [
        {"t": 0.39, "t2": 9.8, "v": 4.61, "v2": 5.0},
        {"t": 0.39, "t2": 7.67, "v": 3.07, "v2": 3.5},
        {"t": 11.3, "t2": 18.67, "v": 1.04, "v2": 1.89},
        {"t": 20.6, "t2": 24.0, "v": 1.04, "v2": 1.89}
      ]},
      "mark": {"type": "rect", "color": "#ffffff"},
      "encoding": {
        "x": {"field": "t", "type": "quantitative", "title": "Relative time in min"},
        "x2": {"field": "t2"},
        "y": {"field": "v", "type": "quantitative", "title": "Energy consumption in kW"},
        "y2": {"field": "v2"}
      }
    },
    {
      "data": {"values": [{"t": 0.52, "v": 6.7, "label": "Global peak Ring: 6.4 kW"}]},
      "mark": {"type": "text", "align": "left", "baseline": "middle", "fontSize": 22, "color": "#1f77b4"},
      "encoding": {
        "x": {"field": "t", "type": "quantitative", "title": "Relative time in min"},
        "y": {"field": "v", "type": "quantitative", "title": "Energy consumption in kW"},
        "text": {"field": "label"}
      }
    },
    {
      "data": {"values": [{"t": 0.52, "v": 4.79, "label": "Global peak Gaussian: 4.5 kW"}]},
      "mark": {"type": "text", "align": "left", "baseline": "middle", "fontSize": 22, "color": "#ff7f0e"},
      "encoding": {
        "x": {"field": "t", "type": "quantitative", "title": "Relative time in min"},
        "y": {"field": "v", "type": "quantitative", "title": "Energy consumption in kW"},
        "text": {"field": "label"}
      }
    },
    {
      "data": {"values": [{"t": 0.52, "v": 3.29, "label": "Idle consumption: 3 kW"}]},
      "mark": {"type": "text", "align": "left", "baseline": "middle", "fontSize": 22, "color": "#2ca02c"},
      "encoding": {
        "x": {"field": "t", "type": "quantitative", "title": "Relative time in min"},
        "y": {"field": "v", "type": "quantitative", "title": "Energy consumption in kW"},
        "text": {"field": "label"}
      }
    },
    {
      "data": {"values": [
        {"t": 15.0, "v": 1.67, "label": "Layer time"},
        {"t": 15.0, "v": 1.31, "label": "Gaussian high-precision"}
      ]},
      "mark": {"type": "text", "align": "center", "baseline": "middle", "fontSize": 22, "color": "#ff7f0e"},
      "encoding": {
        "x": {"field": "t", "type": "quantitative", "title": "Relative time in min"},
        "y": {"field": "v", "type": "quantitative", "title": "Energy consumption in kW"},
        "text": {"field": "label"}
      }
    },
    {
      "data": {"values": [
        {"t": 22.3, "v": 1.67, "label": "Layer time"},
        {"t": 22.3, "v": 1.3, "label": "Ring"}
      ]},
      "mark": {"type": "text", "align": "center", "baseline": "middle", "fontSize": 22, "color": "#1f77b4"},
      "encoding": {
        "x": {"field": "t", "type": "quantitative", "title": "Relative time in min"},
        "y": {"field": "v", "type": "quantitative", "title": "Energy consumption in kW"},
        "text": {"field": "label"}
      }
    }
  ]
}
